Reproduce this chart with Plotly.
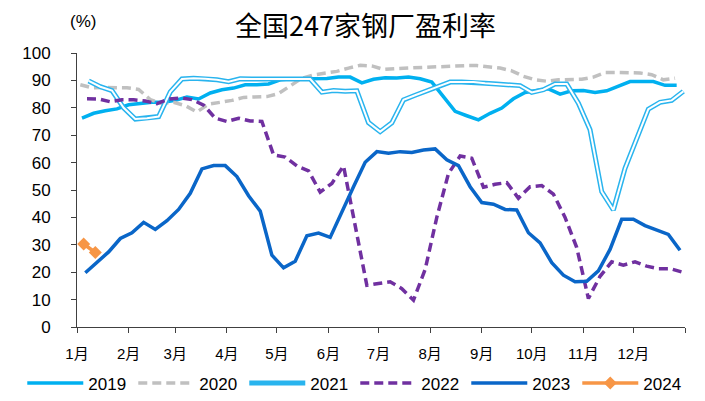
import pandas as pd
import plotly.graph_objects as go

# ---------------- data ----------------
title_text = "全国247家钢厂盈利率"
unit_text = "(%)"
month_labels = ["1月", "2月", "3月", "4月", "5月", "6月", "7月", "8月", "9月", "10月", "11月", "12月"]

# first weekly observation (month-day) of each year
start_2019 = "01-04"
start_2020 = "01-03"
start_2021 = "01-08"
start_2022 = "01-07"
start_2023 = "01-06"
start_2024 = "01-05"

v2019 = [76.2, 78.0, 78.9, 79.6, 81.1, 81.7, 82.0, 82.0, 82.7, 83.9,
         83.2, 85.4, 86.6, 87.2, 88.4, 88.4, 88.7, 90.2, 90.6, 90.6,
         90.6, 90.7, 91.2, 91.2, 89.1, 90.4, 91.0, 90.9, 91.2, 90.6,
         89.4, 84.2, 78.7, 77.1, 75.6, 78.0, 79.9, 83.3, 85.6, 86.3,
         86.9, 85.0, 86.2, 86.3, 85.6, 86.2, 87.8, 89.6, 89.6, 89.6,
         88.2, 88.2]
v2020 = [88.4, 87.3, 87.4, 87.4, 87.3, 86.7, 83.0, 81.6, 82.0, 80.8,
         78.5, 81.3, 82.0, 82.7, 83.8, 84.0, 84.1, 85.2, 88.0, 90.8,
         92.0, 92.7, 93.3, 94.5, 95.5, 95.3, 94.0, 94.3, 94.5, 94.6,
         94.9, 95.3, 95.4, 95.4, 95.4, 95.1, 94.5, 93.5, 91.5, 90.2,
         89.7, 90.2, 90.2, 90.4, 91.2, 92.9, 92.9, 92.9, 92.7, 92.1,
         90.2, 90.8]
v2021 = [89.8, 87.7, 86.3, 80.0, 75.9, 76.2, 76.8, 85.8, 90.5, 90.8,
         90.6, 90.2, 89.5, 90.6, 90.5, 90.5, 90.5, 90.5, 90.5, 90.5,
         85.7, 86.3, 86.0, 86.2, 74.6, 71.3, 74.5, 82.9, 84.6, 86.3,
         87.8, 89.4, 89.4, 89.4, 89.0, 88.7, 88.4, 88.1, 85.6, 86.6,
         88.7, 88.7, 81.7, 72.0, 49.4, 42.7, 57.9, 68.9, 79.5, 82.0,
         82.7, 86.0]
v2022 = [83.3, 83.2, 82.2, 82.9, 82.9, 82.5, 81.5, 83.2, 83.6, 83.0,
         81.0, 76.2, 75.0, 76.2, 75.2, 75.0, 62.8, 62.0, 58.8, 57.0,
         49.2, 52.4, 58.8, 36.5, 15.2, 15.9, 16.5, 14.0, 9.8, 21.0,
         40.0, 56.0, 62.4, 61.6, 51.0, 52.1, 52.7, 47.0, 51.2, 51.6,
         48.5, 40.0, 29.0, 10.4, 18.5, 23.8, 22.6, 23.8, 22.2, 21.3,
         21.3, 20.1]
v2023 = [19.8, 23.5, 27.4, 32.3, 34.4, 38.2, 35.6, 38.8, 42.9, 48.8,
         57.7, 58.9, 58.9, 54.9, 47.9, 42.3, 26.2, 21.6, 24.0, 33.3,
         34.3, 32.7, 42.3, 51.2, 60.1, 64.0, 63.4, 64.0, 63.7, 64.6,
         65.0, 61.0, 58.9, 51.2, 45.4, 44.8, 42.9, 42.7, 34.4, 30.7,
         23.5, 18.9, 16.5, 16.7, 20.5, 28.3, 39.3, 39.3, 37.0, 35.4,
         33.8, 28.0]
v2024 = [30.3, 27.2]

# ---------------- helpers ----------------
REF_YEAR = 2023  # common calendar for all years


def weekly_dates(start_md, n):
    return pd.date_range(f"{REF_YEAR}-{start_md}", periods=n, freq="7D")


fig = go.Figure()

fig.add_trace(go.Scatter(x=weekly_dates(start_2019, len(v2019)), y=v2019, name="2019",
                         mode="lines", line=dict(color="#00B0F0", width=3.5)))
fig.add_trace(go.Scatter(x=weekly_dates(start_2020, len(v2020)), y=v2020, name="2020",
                         mode="lines", line=dict(color="#C0C0C0", width=3.5, dash="9px,5px")))
x21 = weekly_dates(start_2021, len(v2021))
fig.add_trace(go.Scatter(x=x21, y=v2021, name="2021", legendgroup="2021",
                         mode="lines", line=dict(color="#29B4EE", width=5)))
fig.add_trace(go.Scatter(x=x21, y=v2021, name="2021", legendgroup="2021", showlegend=False,
                         hoverinfo="skip", mode="lines", line=dict(color="white", width=2)))
fig.add_trace(go.Scatter(x=weekly_dates(start_2022, len(v2022)), y=v2022, name="2022",
                         mode="lines", line=dict(color="#7030A0", width=3.5, dash="9px,5px")))
fig.add_trace(go.Scatter(x=weekly_dates(start_2023, len(v2023)), y=v2023, name="2023",
                         mode="lines", line=dict(color="#0A66C8", width=3.5)))
fig.add_trace(go.Scatter(x=weekly_dates(start_2024, len(v2024)), y=v2024, name="2024",
                         mode="lines+markers", line=dict(color="#F79646", width=3.5),
                         marker=dict(symbol="diamond", size=10, color="#F79646")))

tick_dates = list(pd.date_range(f"{REF_YEAR}-01-01", periods=13, freq="MS"))

fig.update_layout(
    width=705, height=401,
    margin=dict(l=77, r=20, t=53, b=74, autoexpand=False),
    plot_bgcolor="white", paper_bgcolor="white",
    font=dict(family="Liberation Sans, Arial, Noto Sans CJK SC", size=16, color="#000000"),
    showlegend=True,
    legend=dict(orientation="h", x=-0.09, xanchor="left", y=-0.206, yanchor="middle",
                font=dict(size=17), bgcolor="rgba(0,0,0,0)", traceorder="normal",
                itemwidth=56, entrywidth=40, entrywidthmode="pixels"),
    xaxis=dict(type="date", range=[tick_dates[0], tick_dates[-1]],
               tickmode="array", tickvals=tick_dates, ticktext=month_labels + [""],
               ticks="outside", ticklen=5, tickcolor="#404040",
               showline=True, linecolor="#404040", linewidth=1,
               showgrid=False, zeroline=False, ticklabelstandoff=8,
               tickfont=dict(family="Liberation Sans, Noto Sans CJK SC", size=15)),
    yaxis=dict(range=[0, 100], dtick=10, tick0=0,
               ticks="outside", ticklen=5, tickcolor="#404040",
               showline=True, linecolor="#404040", linewidth=1,
               showgrid=False, zeroline=False, ticklabelstandoff=17,
               tickfont=dict(size=17)),
    annotations=[
        dict(text=title_text, xref="paper", yref="paper", x=0.474, y=1.105,
             xanchor="center", yanchor="middle", showarrow=False,
             font=dict(family="Noto Sans CJK SC", size=27, color="#000000")),
        dict(text=unit_text, xref="paper", yref="paper", x=0.01, y=1.115,
             xanchor="center", yanchor="middle", showarrow=False,
             font=dict(size=17, color="#000000")),
    ],
)

fig.write_html("out.html")
